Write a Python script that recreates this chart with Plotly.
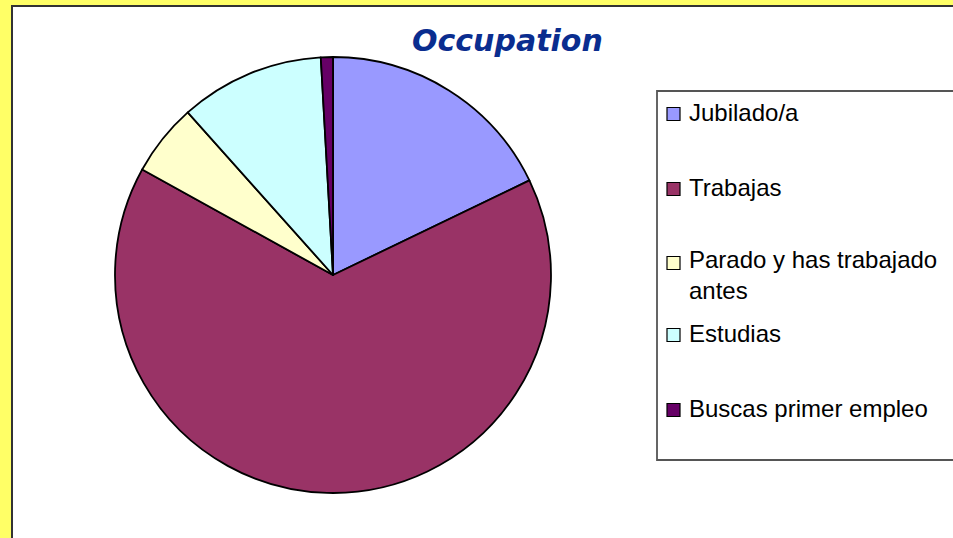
import plotly.graph_objects as go

# ---- data ----
labels = ["Jubilado/a", "Trabajas", "Parado y has trabajado antes", "Estudias", "Buscas primer empleo"]
legend_text = ["Jubilado/a", "Trabajas", "Parado y has trabajado<br>antes", "Estudias", "Buscas primer empleo"]
values = [20, 73, 6, 12, 1]
colors = ["#9999FF", "#993366", "#FFFFCC", "#CCFFFF", "#660066"]
title_text = "Occupation"

W, H = 953, 538

def px(x):
    return x / W

def py(y):
    return 1 - y / H

fig = go.Figure()
fig.add_trace(go.Pie(
    labels=labels,
    values=values,
    sort=False,
    direction="clockwise",
    rotation=0,
    marker=dict(colors=colors, line=dict(color="#000000", width=1.8)),
    textinfo="none",
    hoverinfo="label+percent",
    showlegend=False,
    domain=dict(x=[px(115), px(551)], y=[py(493), py(57)]),
))

shapes = [
    # white chart area with dark border
    dict(type="rect", xref="paper", yref="paper", x0=px(12), y0=-0.02, x1=1.02, y1=py(6),
         fillcolor="#FFFFFF", line=dict(color="#333333", width=2), layer="below"),
    # legend box
    dict(type="rect", xref="paper", yref="paper", x0=px(657), y0=py(460), x1=1.02, y1=py(91),
         fillcolor="rgba(0,0,0,0)", line=dict(color="#555555", width=1.8), layer="below"),
]

annotations = [
    dict(text="<b><i>" + title_text + "</i></b>", x=px(507), y=py(40), xref="paper", yref="paper",
         xanchor="center", yanchor="middle", showarrow=False,
         font=dict(family="DejaVu Sans", size=30, color="#0A2D8F")),
]

item_y = [114, 189, 263, 335, 410]
fs = 24
for lab, col, yc in zip(legend_text, colors, item_y):
    shapes.append(dict(type="rect", xref="paper", yref="paper",
                       x0=px(667), x1=px(680), y0=py(yc + 6.5), y1=py(yc - 6.5),
                       fillcolor=col, line=dict(color="#000000", width=1.2)))
    nlines = lab.count("<br>") + 1
    if nlines == 1:
        annotations.append(dict(text=lab, x=px(687), y=py(yc - 2), xref="paper", yref="paper",
                                xanchor="left", yanchor="middle", showarrow=False, align="left",
                                font=dict(family="Liberation Sans, Arial", size=fs, color="#000000")))
    else:
        annotations.append(dict(text=lab, x=px(687), y=py(yc - 2 - 17), xref="paper", yref="paper",
                                xanchor="left", yanchor="top", showarrow=False, align="left",
                                font=dict(family="Liberation Sans, Arial", size=fs, color="#000000")))

fig.update_layout(
    width=W, height=H,
    margin=dict(l=0, r=0, t=0, b=0),
    paper_bgcolor="#FFFF66",
    plot_bgcolor="#FFFFFF",
    shapes=shapes,
    annotations=annotations,
    showlegend=False,
)

fig.write_html("out.html")
